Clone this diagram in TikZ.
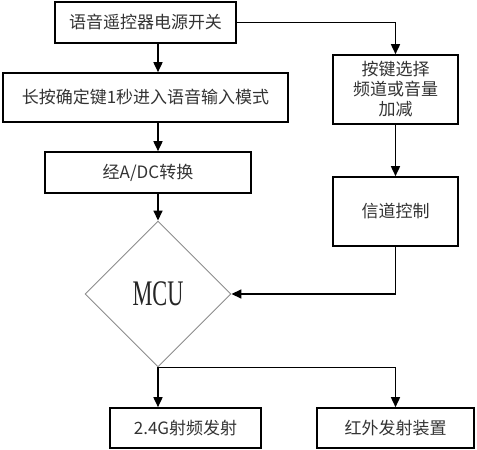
\documentclass[tikz,border=0pt]{standalone}
\usepackage{fontspec}
\setmainfont{Liberation Serif}
\newfontfamily\cjk{Noto Sans CJK SC}
\usetikzlibrary{shapes.geometric,arrows.meta,calc}
\begin{document}
\begin{tikzpicture}[x=1pt,y=-1pt,
  box/.style={draw=black,line width=1.6pt,rectangle,inner sep=0pt,align=center,
    font=\cjk\fontsize{17}{20}\selectfont,text=black!80},
  arr/.style={line width=1.6pt,-{Triangle[length=10pt,width=9pt]}},
  ln/.style={line width=1.6pt}]
\useasboundingbox (0,0) rectangle (477,450);
\node[box,minimum width=181pt,minimum height=41pt] (b1) at (145.5,22.5) {语音遥控器电源开关};
\node[box,minimum width=285pt,minimum height=49pt] (b2) at (145.5,97.5) {长按确定键1秒进入语音输入模式};
\node[box,minimum width=125pt,minimum height=69pt] (b3) at (395.5,89.5) {按键选择\\频道或音量\\加减};
\node[box,minimum width=206pt,minimum height=41pt] (b4) at (148,172.5) {经A/DC转换};
\node[box,minimum width=125pt,minimum height=69pt] (b5) at (395.5,211.5) {信道控制};
\node[draw=black!45,line width=0.9pt,diamond,inner sep=0pt,minimum width=146pt,minimum height=146pt,
  text=black!85] (mcu) at (158,294) {\fontsize{36}{36}\selectfont\scalebox{0.62}[1]{MCU}};
\node[box,minimum width=151pt,minimum height=40pt] (b6) at (185.5,428) {2.4G射频发射};
\node[box,minimum width=157pt,minimum height=40pt] (b7) at (395.5,428) {红外发射装置};
\draw[arr] (b1.south -| mcu.north) -- (b2.north -| mcu.north);
\draw[arr] (b2.south -| mcu.north) -- (b4.north -| mcu.north);
\draw[arr] (b4.south -| mcu.north) -- (mcu.north);
\draw[arr] (b1.east) -| (b3.north);
\draw[arr] (b3.south) -- (b5.north);
\draw[arr] (b5.south) |- (mcu.east);
\draw[arr] (mcu.south) -- (b6.north -| mcu.south);
\draw[arr] (mcu.south) -| (b7.north);
\end{tikzpicture}
\end{document}
